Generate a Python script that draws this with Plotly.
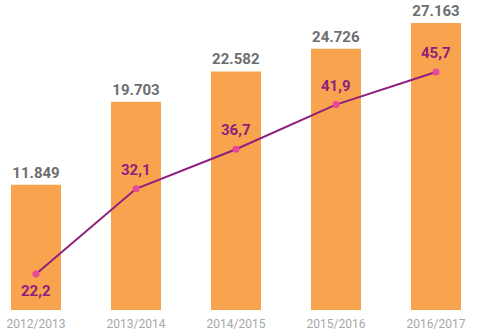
import plotly.graph_objects as go

categories = ["2012/2013", "2013/2014", "2014/2015", "2015/2016", "2016/2017"]
bar_values = [11849, 19703, 22582, 24726, 27163]
line_values = [22.2, 32.1, 36.7, 41.9, 45.7]

bar_labels = [f"{v:,}".replace(",", ".") for v in bar_values]
line_labels = [f"{v:.1f}".replace(".", ",") for v in line_values]

FONT = "Roboto"
fig = go.Figure()
fig.add_trace(go.Bar(
    x=categories, y=bar_values, width=0.5,
    marker=dict(color="#F8A34E", line=dict(width=0)),
    text=bar_labels, textposition="outside", cliponaxis=False,
    textfont=dict(family=FONT, size=15, color="#6D6E70", weight="bold"),
    hoverinfo="skip",
))
fig.add_trace(go.Scatter(
    x=categories, y=line_values, yaxis="y2", mode="lines+markers",
    line=dict(color="#8E1F7E", width=2),
    marker=dict(color="#E8489C", size=7),
    cliponaxis=False, hoverinfo="skip",
))
for i, (c, v, t) in enumerate(zip(categories, line_values, line_labels)):
    fig.add_annotation(
        x=c, y=v, xref="x", yref="y2", text=t, showarrow=False,
        yshift=-17 if i == 0 else 19,
        font=dict(family=FONT, size=15, color="#8E1F7E", weight="bold"),
    )

fig.update_layout(
    width=480, height=336,
    margin=dict(l=0, r=0, t=0, b=26),
    paper_bgcolor="white", plot_bgcolor="white",
    showlegend=False, bargap=0.5,
    xaxis=dict(type="category", range=[-0.36, 4.44], showgrid=False, zeroline=False,
               showline=False, ticks="", ticklabelstandoff=5,
               tickfont=dict(family=FONT, size=12, color="#A8A8A8")),
    yaxis=dict(range=[0, 29340], visible=False, showgrid=False, zeroline=False),
    yaxis2=dict(range=[18.0, 54.07], overlaying="y", visible=False, showgrid=False, zeroline=False),
)
fig.write_html("out.html")
